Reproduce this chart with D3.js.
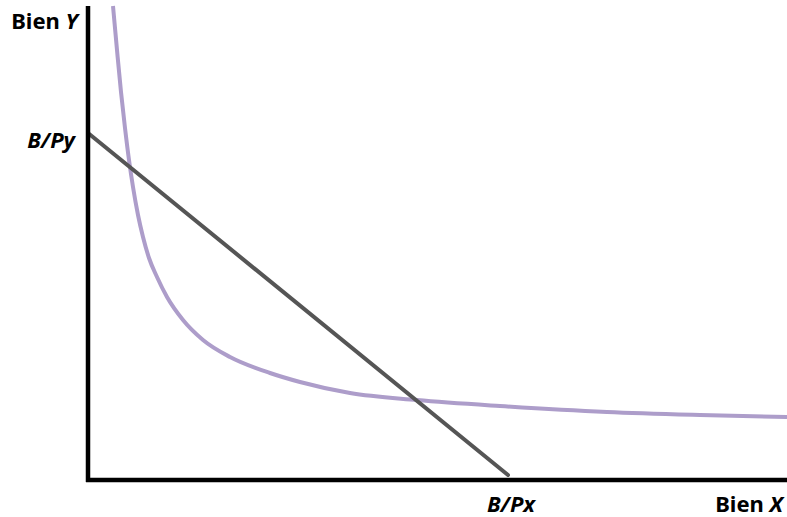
<!DOCTYPE html>
<html>
<head>
<meta charset="utf-8">
<script src="https://cdn.jsdelivr.net/npm/d3@7"></script>
<style>
  body { margin: 0; background: #fff; }
  text { font-family: "Noto Sans", sans-serif; font-weight: bold; fill: #000; }
</style>
</head>
<body>
<div id="chart"></div>
<script>
// indifference curve (units = quantity of good)
var curveX = [25, 29, 33, 37, 41, 45, 50, 55, 61, 69, 79, 95, 115, 142, 182, 212, 262, 329, 412, 519, 612, 699];
var curveY = [474, 430, 388, 352, 320, 293, 265, 243, 222, 203, 183, 160, 140, 123, 107, 98, 87, 80, 74, 68, 65, 63];

// budget line: intercepts B/Py and B/Px
var budgetX = [0, 420];
var budgetY = [347, 5];

var axisLabels = ["Bien X", "Bien Y"];
var interceptLabels = ["B/Px", "B/Py"];

var W = 787, H = 517;
var margin = {top: 5, right: 0, bottom: 37, left: 88};

var svg = d3.select("#chart").append("svg")
  .attr("width", W)
  .attr("height", H);

var x = d3.scaleLinear().domain([0, 699]).range([margin.left, W]);
var y = d3.scaleLinear().domain([0, 475]).range([H - margin.bottom, margin.top]);

// curve
var pts = curveX.map((d, i) => [d, curveY[i]]);
var line = d3.line()
  .x(d => x(d[0]))
  .y(d => y(d[1]))
  .curve(d3.curveMonotoneX);

svg.append("path")
  .datum(pts)
  .attr("d", line)
  .attr("fill", "none")
  .attr("stroke", "#ad9dca")
  .attr("stroke-width", 4);

// budget line
svg.append("path")
  .datum(budgetX.map((d, i) => [d, budgetY[i]]))
  .attr("d", d3.line().x(d => x(d[0])).y(d => y(d[1])))
  .attr("fill", "none")
  .attr("stroke", "#555")
  .attr("stroke-width", 4)
  .attr("stroke-linecap", "round");

// axes (plain thick lines, no ticks)
var x0 = x(0), y0 = y(0);
svg.append("line")
  .attr("x1", x0).attr("y1", margin.top + 1)
  .attr("x2", x0).attr("y2", y0 + 2)
  .attr("stroke", "#000").attr("stroke-width", 4.5);
svg.append("line")
  .attr("x1", x0 - 2).attr("y1", y0)
  .attr("x2", W).attr("y2", y0)
  .attr("stroke", "#000").attr("stroke-width", 4.5);

// axis labels
function lbl(t, px, py, anchor) {
  var parts = t.split(" ");
  var el = svg.append("text")
    .attr("x", px).attr("y", py)
    .attr("text-anchor", anchor)
    .attr("font-size", 22);
  el.append("tspan").text(parts[0] + " ");
  el.append("tspan").attr("font-style", "italic").text(parts[1]);
}
lbl(axisLabels[0], 783, 512, "end");
lbl(axisLabels[1], 78, 29, "end");

svg.append("text")
  .attr("x", x(budgetX[1]) + 3).attr("y", 512)
  .attr("text-anchor", "middle")
  .attr("font-size", 22)
  .attr("font-style", "italic")
  .text(interceptLabels[0]);

svg.append("text")
  .attr("x", 75).attr("y", y(budgetY[0]) + 15)
  .attr("text-anchor", "end")
  .attr("font-size", 22)
  .attr("font-style", "italic")
  .text(interceptLabels[1]);
</script>
</body>
</html>
